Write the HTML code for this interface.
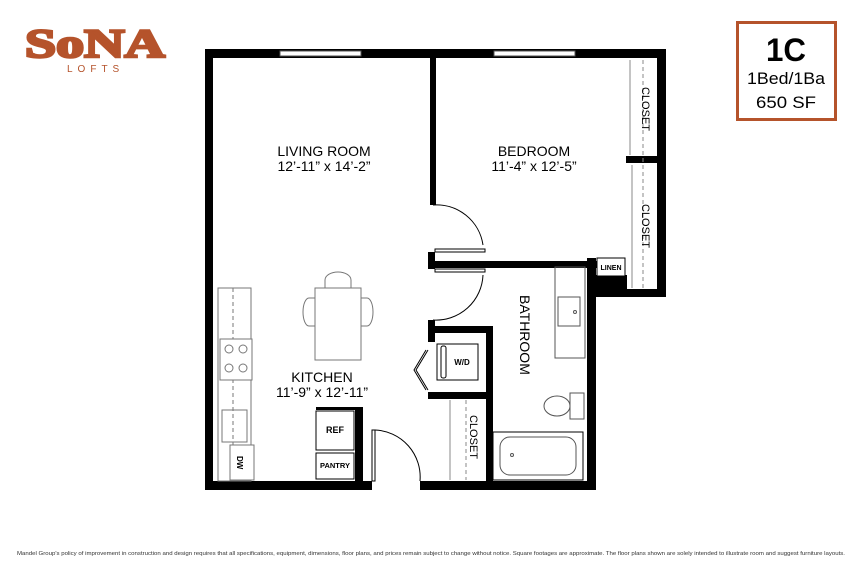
<!DOCTYPE html>
<html><head><meta charset="utf-8"><style>
body{margin:0;background:#fff;width:859px;height:573px;overflow:hidden;font-family:"Liberation Sans",sans-serif}
</style></head><body>
<svg width="859" height="573" viewBox="0 0 859 573" xmlns="http://www.w3.org/2000/svg" font-family="Liberation Sans, sans-serif">
<!-- logo -->
<text x="25" y="57" font-family="Liberation Serif, serif" font-weight="bold" font-size="40" fill="#b5532b" stroke="#b5532b" stroke-width="2.5" textLength="140" lengthAdjust="spacingAndGlyphs">SoNA</text>
<text x="67" y="72" font-size="10" fill="#b5532b" letter-spacing="5">LOFTS</text>
<!-- unit box -->
<rect x="737.5" y="22.5" width="98" height="97" fill="#fff" stroke="#b5532b" stroke-width="3"/>
<text x="786" y="61" text-anchor="middle" font-size="32" font-weight="bold" textLength="40" lengthAdjust="spacingAndGlyphs">1C</text>
<text x="786" y="84" text-anchor="middle" font-size="17" textLength="78" lengthAdjust="spacingAndGlyphs">1Bed/1Ba</text>
<text x="786" y="108" text-anchor="middle" font-size="17" textLength="60" lengthAdjust="spacingAndGlyphs">650 SF</text>

<g fill="#000">
<rect x="205" y="49" width="461" height="9"/>
<rect x="205" y="49" width="8" height="441"/>
<rect x="657" y="49" width="9" height="248"/>
<rect x="587" y="289" width="79" height="8"/>
<rect x="587" y="258" width="9" height="232"/>
<rect x="205" y="481" width="158" height="9"/>
<rect x="420" y="481" width="176" height="9"/>
<rect x="359" y="481" width="13" height="9"/>
<rect x="430" y="58" width="6" height="147"/>
<rect x="430" y="261" width="168" height="7"/>
<rect x="428" y="252" width="7" height="17"/>
<rect x="428" y="320" width="7" height="22"/>
<rect x="428" y="326" width="64" height="7"/>
<rect x="486" y="326" width="7" height="155"/>
<rect x="428" y="392" width="59" height="7"/>
<rect x="626" y="156" width="34" height="7"/>
<rect x="587" y="275" width="40" height="22"/>
<rect x="355" y="407" width="8" height="74"/>
<rect x="316" y="407" width="45" height="3"/>
</g>
<g fill="#fff" stroke="#555" stroke-width="1">
<rect x="280" y="51" width="81" height="5"/>
<rect x="494" y="51" width="81" height="5"/>
</g>
<g stroke="#888" fill="none" stroke-width="1">
<line x1="630" y1="60" x2="630" y2="155"/>
<line x1="632" y1="165" x2="632" y2="288"/>
<line x1="643" y1="60" x2="643" y2="288" stroke-dasharray="4,3"/>
<line x1="450" y1="400" x2="450" y2="480"/>
<line x1="466" y1="400" x2="466" y2="480" stroke-dasharray="4,3"/>
</g>
<rect x="597" y="258" width="28" height="18" fill="#fff" stroke="#000"/>
<text x="611" y="270" font-size="7" font-weight="bold" text-anchor="middle">LINEN</text>
<text transform="translate(642,87) rotate(90)" font-size="11">CLOSET</text>
<text transform="translate(642,204) rotate(90)" font-size="11">CLOSET</text>
<text transform="translate(470,415) rotate(90)" font-size="11">CLOSET</text>
<g stroke="#000" fill="none" stroke-width="1">
<path d="M433 205 A47 47 0 0 1 483 245"/>
<rect x="435" y="249" width="50" height="3"/>
<rect x="435" y="269" width="50" height="3"/>
<path d="M483 275 A47 47 0 0 1 433 320"/>
<rect x="372" y="430" width="3" height="51"/>
<path d="M375 430 A47 47 0 0 1 420 481"/>
<path d="M428 350 L416 370 L428 390"/>
<path d="M426 350 L414 370 L426 390"/>
</g>
<rect x="437" y="344" width="41" height="36" fill="#fff" stroke="#000"/>
<rect x="441" y="346" width="5" height="32" fill="none" stroke="#000" rx="2"/>
<text x="462" y="365" font-size="8" font-weight="bold" text-anchor="middle">W/D</text>
<g stroke="#555" fill="none">
<rect x="555" y="267" width="30" height="91"/>
<rect x="558" y="297" width="22" height="29"/>
<circle cx="575" cy="312" r="1.5"/>
<rect x="570" y="393" width="14" height="26"/>
<ellipse cx="557" cy="406" rx="13" ry="10"/>
<rect x="493" y="432" width="90" height="48" stroke="#000"/>
<rect x="500" y="437" width="76" height="38" rx="10"/>
<circle cx="512" cy="455" r="1.5"/>
</g>
<text transform="translate(520,295) rotate(90)" font-size="14">BATHROOM</text>
<g stroke="#777" fill="none">
<rect x="218" y="288" width="33" height="193"/>
<line x1="233" y1="288" x2="233" y2="481" stroke-dasharray="4,3"/>
<rect x="220" y="339" width="32" height="41" fill="#fff"/>
<circle cx="229" cy="349" r="4"/><circle cx="243" cy="349" r="4"/>
<circle cx="229" cy="368" r="4"/><circle cx="243" cy="368" r="4"/>
<rect x="222" y="410" width="25" height="32"/>
<rect x="230" y="445" width="24" height="35" fill="#fff"/>
<rect x="315" y="288" width="46" height="72"/>
<path d="M325 288 v-8 a13 8 0 0 1 26 0 v8"/>
<path d="M315 298 h-6 a6 14 0 0 0 0 28 h6"/>
<path d="M361 298 h6 a6 14 0 0 1 0 28 h-6"/>
</g>
<text transform="translate(237,456) rotate(90)" font-size="8" font-weight="bold">DW</text>
<rect x="316" y="411" width="38" height="39" fill="#fff" stroke="#000"/>
<text x="335" y="433" font-size="9" font-weight="bold" text-anchor="middle">REF</text>
<rect x="316" y="453" width="38" height="26" fill="#fff" stroke="#000"/>
<text x="335" y="468" font-size="7.5" font-weight="bold" text-anchor="middle">PANTRY</text>
<g font-size="14" text-anchor="middle">
<text x="324" y="156">LIVING ROOM</text>
<text x="324" y="171">12’-11” x 14’-2”</text>
<text x="534" y="156">BEDROOM</text>
<text x="534" y="171">11’-4” x 12’-5”</text>
<text x="322" y="382">KITCHEN</text>
<text x="322" y="397">11’-9” x 12’-11”</text>
</g>
<text x="17" y="555" font-size="5.3" fill="#333" textLength="828" lengthAdjust="spacingAndGlyphs">Mandel Group's policy of improvement in construction and design requires that all specifications, equipment, dimensions, floor plans, and prices remain subject to change without notice. Square footages are approximate. The floor plans shown are solely intended to illustrate room and suggest furniture layouts.</text>
</svg>
</body></html>
